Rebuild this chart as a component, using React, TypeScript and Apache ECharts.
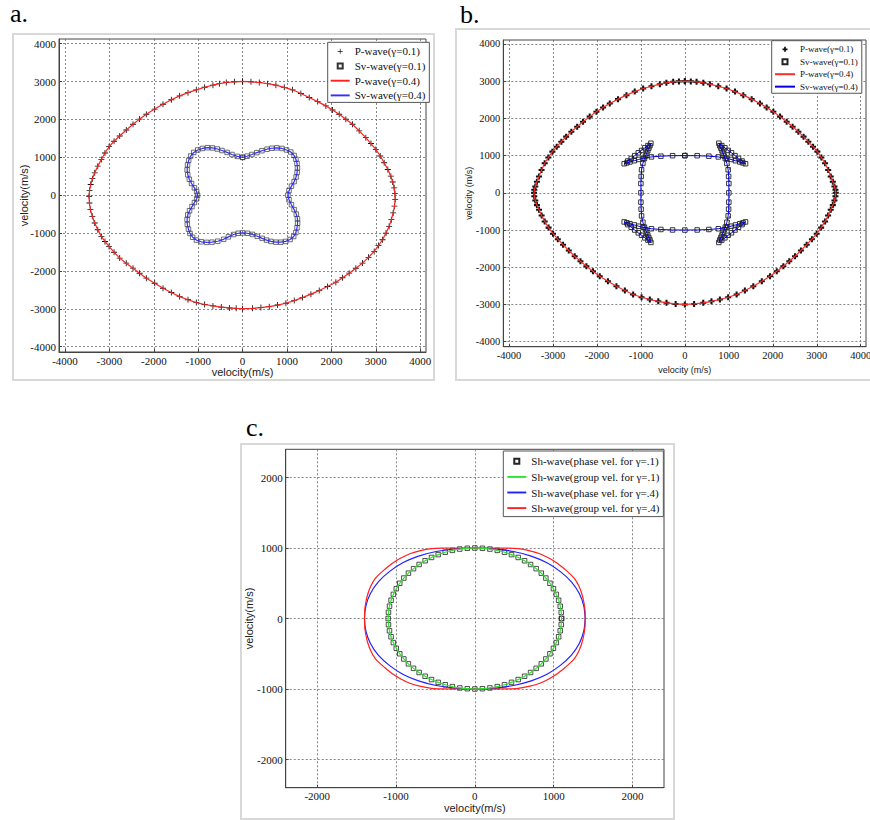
import React, { useEffect, useRef } from "react";
import * as echarts from "echarts";

// ---------- data ----------
const A_TICKS = [-4000, -3000, -2000, -1000, 0, 1000, 2000, 3000, 4000];
const C_TICKS = [-2000, -1000, 0, 1000, 2000];

const A_NAMES = ["P-wave(γ=0.1)", "Sv-wave(γ=0.1)", "P-wave(γ=0.4)", "Sv-wave(γ=0.4)"];
const B_NAMES = ["P-wave(γ=0.1)", "Sv-wave(γ=0.1)", "P-wave(γ=0.4)", "Sv-wave(γ=0.4)"];
const C_NAMES = [
  "Sh-wave(phase vel. for γ=.1)",
  "Sh-wave(group vel. for γ=.1)",
  "Sh-wave(phase vel. for γ=.4)",
  "Sh-wave(group vel. for γ=.4)",
];
const AXIS_NAME_A = "velocity(m/s)";
const AXIS_NAME_B = "velocity (m/s)";

// Panel a: P-wave wavefront (γ=0.1 markers and γ=0.4 line coincide)
const A_P_WAVE: number[][] = [
  [0, 3004], [-185, 2995], [-368, 2977], [-520, 2945], [-668, 2906], [-855, 2850], [-1043, 2783],
  [-1230, 2708], [-1418, 2624], [-1605, 2520], [-1793, 2403], [-1980, 2275], [-2168, 2138],
  [-2320, 2010], [-2468, 1873], [-2620, 1722], [-2768, 1564], [-2895, 1425], [-3008, 1281],
  [-3100, 1115], [-3181, 945], [-3262, 768], [-3331, 592], [-3383, 437], [-3421, 283],
  [-3447, 128], [-3458, -27],
  [-3450, -205], [-3428, -380], [-3385, -557], [-3331, -733], [-3262, -912], [-3181, -1087],
  [-3100, -1222], [-3008, -1352], [-2895, -1505], [-2768, -1661], [-2620, -1795], [-2468, -1926],
  [-2320, -2060], [-2168, -2191], [-1980, -2325], [-1793, -2456], [-1605, -2570], [-1418, -2677],
  [-1230, -2760], [-1043, -2836], [-855, -2885], [-668, -2924], [-480, -2955], [-293, -2977],
  [-145, -2988], [0, -2995],
  [225, -2986], [412, -2966], [600, -2942], [788, -2900], [975, -2853], [1163, -2782],
  [1350, -2703], [1538, -2612], [1725, -2518], [1912, -2410], [2100, -2297], [2250, -2180],
  [2400, -2058], [2550, -1928], [2700, -1793], [2835, -1640], [2963, -1484], [3060, -1330],
  [3150, -1175], [3230, -1000], [3300, -822], [3350, -645], [3391, -468], [3420, -290], [3436, -115],
  [3430, 40], [3413, 194], [3380, 350], [3338, 504], [3270, 680], [3188, 857], [3100, 1035],
  [3000, 1210], [2890, 1365], [2775, 1519], [2625, 1700], [2475, 1873], [2325, 2008],
  [2175, 2138], [2025, 2250], [1875, 2359], [1690, 2472], [1500, 2580], [1312, 2685],
  [1125, 2783], [938, 2848], [750, 2906], [562, 2945], [375, 2977], [188, 2995], [0, 3004],
];

// Panel a: Sv-wave wavefront (four lobes)
const A_SV_WAVE: number[][] = [
  [0, 1000], [100, 1030], [210, 1075], [320, 1125], [435, 1175], [550, 1215], [660, 1240],
  [770, 1250], [885, 1235], [990, 1195], [1085, 1140], [1160, 1050], [1200, 950], [1225, 840],
  [1235, 720], [1228, 600], [1205, 480], [1160, 360], [1100, 240], [1045, 120], [1020, 0],
  [1045, -120], [1100, -250], [1160, -380], [1210, -500], [1235, -620], [1238, -740],
  [1225, -860], [1200, -985], [1150, -1090], [1070, -1170], [970, -1220], [860, -1240],
  [750, -1240], [640, -1220], [540, -1185], [440, -1140], [330, -1085], [220, -1035],
  [110, -1005], [0, -995],
  [-100, -1005], [-203, -1038], [-320, -1100], [-428, -1165], [-560, -1215], [-690, -1240],
  [-810, -1245], [-930, -1230], [-1040, -1185], [-1125, -1110], [-1185, -1010], [-1220, -895],
  [-1245, -770], [-1250, -640], [-1235, -520], [-1195, -410], [-1140, -300], [-1085, -195],
  [-1035, -95], [-1015, 0],
  [-1035, 95], [-1085, 195], [-1150, 310], [-1200, 420], [-1235, 540], [-1250, 670],
  [-1240, 800], [-1215, 920], [-1170, 1035], [-1100, 1130], [-1010, 1195], [-905, 1235],
  [-790, 1255], [-680, 1248], [-570, 1220], [-465, 1180], [-350, 1130], [-240, 1075],
  [-120, 1025], [0, 1000],
];

// Panel b: P-wave wavefront
const B_P_WAVE: number[][] = [
  [0, 3000], [-135, 2995], [-266, 2982], [-420, 2955], [-570, 2920], [-760, 2865], [-949, 2804],
  [-1140, 2720], [-1329, 2625], [-1520, 2518], [-1708, 2402], [-1860, 2292], [-2012, 2179],
  [-2165, 2048], [-2316, 1911], [-2450, 1778], [-2582, 1643], [-2700, 1510], [-2809, 1375],
  [-2915, 1240], [-3014, 1107], [-3105, 950], [-3189, 795], [-3260, 615], [-3318, 438],
  [-3365, 300], [-3402, 170], [-3425, 80], [-3432, 0],
  [-3425, -90], [-3402, -205], [-3365, -330], [-3318, -455], [-3258, -612], [-3189, -768],
  [-3100, -935], [-2999, -1098], [-2890, -1245], [-2771, -1393], [-2640, -1550], [-2506, -1705],
  [-2375, -1840], [-2240, -1973], [-2090, -2108], [-1936, -2241], [-1750, -2378], [-1557, -2509],
  [-1365, -2625], [-1177, -2732], [-985, -2805], [-797, -2866], [-605, -2915], [-418, -2955],
  [-210, -2985], [0, -3000],
  [210, -2985], [418, -2955], [605, -2915], [797, -2866], [985, -2805], [1177, -2732],
  [1365, -2625], [1557, -2509], [1750, -2378], [1936, -2241], [2090, -2108], [2240, -1973],
  [2375, -1840], [2506, -1705], [2640, -1550], [2771, -1393], [2890, -1245], [2999, -1098],
  [3100, -935], [3189, -768], [3258, -612], [3318, -455], [3365, -330], [3402, -205],
  [3425, -90], [3432, 0],
  [3425, 80], [3402, 170], [3365, 300], [3318, 438], [3260, 615], [3189, 795], [3105, 950],
  [3014, 1107], [2915, 1240], [2809, 1375], [2700, 1510], [2582, 1643], [2450, 1778],
  [2316, 1911], [2165, 2048], [2012, 2179], [1860, 2292], [1708, 2402], [1520, 2518],
  [1329, 2625], [1140, 2720], [949, 2804], [760, 2865], [570, 2920], [420, 2955], [266, 2982],
  [135, 2995], [0, 3000],
];

// Panel b: Sv-wave wavefront with cusps
const B_SV_WAVE: number[][] = [
  [0, 1000], [280, 998], [546, 985], [760, 965], [950, 930], [1050, 897], [1150, 863],
  [1250, 830], [1320, 805], [1380, 782], [1300, 855], [1220, 925], [1140, 1000], [1060, 1075],
  [985, 1140], [910, 1210], [840, 1270], [773, 1333], [795, 1265], [820, 1200], [845, 1130],
  [870, 1060], [895, 990], [920, 920], [955, 790], [985, 620], [995, 440], [1000, 250], [1000, 0],
  [1000, -250], [995, -440], [985, -620], [955, -790], [920, -920], [895, -990], [870, -1060],
  [845, -1130], [820, -1200], [795, -1265], [773, -1333], [840, -1270], [910, -1210],
  [985, -1140], [1060, -1075], [1140, -1000], [1220, -925], [1300, -855], [1380, -782],
  [1320, -805], [1250, -830], [1150, -863], [1050, -897], [950, -930], [760, -965],
  [546, -985], [280, -998], [0, -1000],
  [-280, -998], [-546, -985], [-760, -965], [-950, -930], [-1050, -897], [-1150, -863],
  [-1250, -830], [-1320, -805], [-1380, -782], [-1300, -855], [-1220, -925], [-1140, -1000],
  [-1060, -1075], [-985, -1140], [-910, -1210], [-840, -1270], [-773, -1333], [-795, -1265],
  [-820, -1200], [-845, -1130], [-870, -1060], [-895, -990], [-920, -920], [-955, -790],
  [-985, -620], [-995, -440], [-1000, -250], [-1000, 0],
  [-1000, 250], [-995, 440], [-985, 620], [-955, 790], [-920, 920], [-895, 990], [-870, 1060],
  [-845, 1130], [-820, 1200], [-795, 1265], [-773, 1333], [-840, 1270], [-910, 1210],
  [-985, 1140], [-1060, 1075], [-1140, 1000], [-1220, 925], [-1300, 855], [-1380, 782],
  [-1320, 805], [-1250, 830], [-1150, 863], [-1050, 897], [-950, 930], [-760, 965],
  [-546, 985], [-280, 998], [0, 1000],
];

// Panel c: SH-wave for γ=.1 (phase and group coincide)
const C_SH_G1: number[][] = [
  [1100, 0], [1096, 87], [1083, 174], [1063, 259], [1034, 342], [997, 423], [953, 500],
  [901, 574], [843, 643], [778, 707], [707, 766], [631, 819], [550, 866], [465, 906],
  [376, 940], [285, 966], [191, 985], [96, 996], [0, 1000],
  [-96, 996], [-191, 985], [-285, 966], [-376, 940], [-465, 906], [-550, 866], [-631, 819],
  [-707, 766], [-778, 707], [-843, 643], [-901, 574], [-953, 500], [-997, 423], [-1034, 342],
  [-1063, 259], [-1083, 174], [-1096, 87], [-1100, 0],
  [-1096, -87], [-1083, -174], [-1063, -259], [-1034, -342], [-997, -423], [-953, -500],
  [-901, -574], [-843, -643], [-778, -707], [-707, -766], [-631, -819], [-550, -866],
  [-465, -906], [-376, -940], [-285, -966], [-191, -985], [-96, -996], [0, -1000],
  [96, -996], [191, -985], [285, -966], [376, -940], [465, -906], [550, -866], [631, -819],
  [707, -766], [778, -707], [843, -643], [901, -574], [953, -500], [997, -423], [1034, -342],
  [1063, -259], [1083, -174], [1096, -87], [1100, 0],
];

// Panel c: SH-wave phase velocity, γ=.4
const C_SH_PHASE_G4: number[][] = [
  [1400, 0], [1382, 180], [1325, 355], [1225, 520], [1085, 665], [915, 790], [715, 885],
  [490, 950], [250, 988], [0, 1000],
  [-250, 988], [-490, 950], [-715, 885], [-915, 790], [-1085, 665], [-1225, 520], [-1325, 355],
  [-1382, 180], [-1400, 0],
  [-1382, -180], [-1325, -355], [-1225, -520], [-1085, -665], [-915, -790], [-715, -885],
  [-490, -950], [-250, -988], [0, -1000],
  [250, -988], [490, -950], [715, -885], [915, -790], [1085, -665], [1225, -520], [1325, -355],
  [1382, -180], [1400, 0],
];

// Panel c: SH-wave group velocity, γ=.4
const C_SH_GROUP_G4: number[][] = [
  [1400, 0], [1398, 110], [1385, 220], [1360, 340], [1320, 460], [1265, 565], [1210, 630],
  [1150, 690], [1050, 780], [950, 850], [825, 919], [700, 960], [550, 990], [400, 998],
  [200, 1000], [0, 1000],
  [-200, 1000], [-400, 998], [-550, 990], [-700, 960], [-825, 919], [-950, 850], [-1050, 780],
  [-1150, 690], [-1210, 630], [-1265, 565], [-1320, 460], [-1360, 340], [-1385, 220],
  [-1398, 110], [-1400, 0],
  [-1398, -110], [-1385, -220], [-1360, -340], [-1320, -460], [-1265, -565], [-1210, -630],
  [-1150, -690], [-1050, -780], [-950, -850], [-825, -919], [-700, -960], [-550, -990],
  [-400, -998], [-200, -1000], [0, -1000],
  [200, -1000], [400, -998], [550, -990], [700, -960], [825, -919], [950, -850], [1050, -780],
  [1150, -690], [1210, -630], [1265, -565], [1320, -460], [1360, -340], [1385, -220],
  [1398, -110], [1400, 0],
];

// ---------- styling ----------
const SERIF = "Liberation Serif";
const SANS = "Liberation Sans";
const PLUS = "path://M0,4.3H10V5.7H0Z M4.3,0H5.7V10H4.3Z";
const BOLD_PLUS = "path://M3.3,0H6.7V3.3H10V6.7H6.7V10H3.3V6.7H0V3.3H3.3Z";
const SQUARE = "path://M0,0H10V10H0Z";
const LINE_ICON = "path://M0,0H40V4H0Z";

function makeAxis(o: {
  min: number; max: number; ticks: number[]; name: string; nameGap: number;
  nameSize: number; labelSize: number;
}) {
  return {
    type: "value",
    min: o.min,
    max: o.max,
    name: o.name,
    nameLocation: "middle",
    nameGap: o.nameGap,
    nameMoveOverlap: false,
    nameTextStyle: { fontFamily: SANS, fontSize: o.nameSize, color: "#222" },
    axisLine: { show: true, onZero: false, lineStyle: { color: "#444", width: 1 } },
    axisTick: {
      show: true, inside: true, length: 3, customValues: o.ticks,
      lineStyle: { color: "#444", width: 1 },
    },
    axisLabel: {
      customValues: o.ticks, fontFamily: SERIF, fontSize: o.labelSize, color: "#111",
      margin: 3, hideOverlap: false,
      formatter: (v: number) => `{t|${Math.round(v)}}`,
      rich: { t: { fontFamily: SERIF, fontSize: o.labelSize, color: "#111" } },
    },
    splitLine: { show: true, lineStyle: { color: "#6a6a6a", width: 0.8, type: [2, 2] } },
    splitArea: { show: false },
  };
}

function frame(x: number, y: number, w: number, h: number) {
  return {
    type: "rect", silent: true, z: 0,
    shape: { x, y, width: w, height: h },
    style: { fill: "none", stroke: "#d8d8d8", lineWidth: 2 },
  };
}

function panelLabel(text: string, x: number, y: number) {
  return {
    type: "text", x, y, silent: true,
    style: {
      text, font: `26px "${SERIF}"`, fill: "#000",
      verticalAlign: "middle", textVerticalAlign: "middle",
    },
  };
}

const lineItem = (name: string) => ({ name, icon: LINE_ICON, itemStyle: { borderWidth: 0 } });

const optionA = {
  animation: false,
  textStyle: { fontFamily: SERIF },
  graphic: [frame(13, 34, 421, 346), panelLabel("a.", 10, 13)],
  grid: {
    left: 59, right: 14, top: 39, bottom: 38, show: true, borderColor: "#444", borderWidth: 1,
    backgroundColor: "#fff", outerBoundsMode: "none",
  },
  xAxis: makeAxis({ min: -4135, max: 4130, ticks: A_TICKS, name: AXIS_NAME_A, nameGap: 14, nameSize: 11, labelSize: 11 }),
  yAxis: makeAxis({ min: -4140, max: 4125, ticks: A_TICKS, name: AXIS_NAME_A, nameGap: 30, nameSize: 11, labelSize: 11 }),
  legend: {
    orient: "vertical", left: 327.7, top: 42.3, padding: [3, 4, 1, 3],
    itemWidth: 19, itemHeight: 5, itemGap: 2.7, selectedMode: false,
    backgroundColor: "#fff", borderColor: "#555", borderWidth: 1,
    textStyle: { fontFamily: SERIF, fontSize: 11, color: "#111", lineHeight: 12 },
    data: [
      { name: A_NAMES[0], icon: PLUS },
      { name: A_NAMES[1], icon: SQUARE },
      lineItem(A_NAMES[2]),
      lineItem(A_NAMES[3]),
    ],
  },
  series: [
    {
      name: A_NAMES[0], type: "scatter", data: A_P_WAVE, symbol: PLUS, symbolSize: 6, silent: true,
      color: "#111", itemStyle: { color: "#111", opacity: 1 },
    },
    {
      name: A_NAMES[1], type: "scatter", data: A_SV_WAVE, symbol: "rect", symbolSize: 4.5, silent: true,
      color: "#222", itemStyle: { color: "rgba(0,0,0,0)", borderColor: "#333", borderWidth: 0.7, opacity: 1 },
    },
    {
      name: A_NAMES[2], type: "line", data: A_P_WAVE, symbol: "none", showSymbol: false, silent: true,
      color: "#ff2020", itemStyle: { color: "#ff2020" }, lineStyle: { color: "#ff2020", width: 1.2 },
    },
    {
      name: A_NAMES[3], type: "line", data: A_SV_WAVE, symbol: "none", showSymbol: false, silent: true,
      color: "#3030ff", itemStyle: { color: "#3030ff" }, lineStyle: { color: "#3030ff", width: 1.2 },
    },
  ],
};

const optionB = {
  animation: false,
  textStyle: { fontFamily: SERIF },
  graphic: [frame(16, 29, 420, 351), panelLabel("b.", 20, 14)],
  grid: {
    left: 63.3, right: 4, top: 40, bottom: 43.3, show: true, borderColor: "#444", borderWidth: 1,
    backgroundColor: "#fff", outerBoundsMode: "none",
  },
  xAxis: makeAxis({ min: -4130, max: 4120, ticks: A_TICKS, name: AXIS_NAME_B, nameGap: 19, nameSize: 9, labelSize: 10.5 }),
  yAxis: makeAxis({ min: -4135, max: 4107, ticks: A_TICKS, name: AXIS_NAME_B, nameGap: 29.5, nameSize: 9, labelSize: 10.5 }),
  legend: {
    orient: "vertical", left: 331.7, top: 40.7, padding: [3.6, 4, 1.6, 3.3],
    itemWidth: 20, itemHeight: 5, itemGap: 2.45, selectedMode: false,
    backgroundColor: "#fff", borderColor: "#555", borderWidth: 1,
    textStyle: { fontFamily: SERIF, fontSize: 9, color: "#111", lineHeight: 10 },
    data: [
      { name: B_NAMES[0], icon: BOLD_PLUS },
      { name: B_NAMES[1], icon: SQUARE },
      lineItem(B_NAMES[2]),
      lineItem(B_NAMES[3]),
    ],
  },
  series: [
    {
      name: B_NAMES[0], type: "scatter", data: B_P_WAVE, symbol: BOLD_PLUS, symbolSize: 6, silent: true,
      color: "#111", itemStyle: { color: "#111", opacity: 1 },
    },
    {
      name: B_NAMES[1], type: "scatter", data: B_SV_WAVE, symbol: "rect", symbolSize: 4.5, silent: true,
      color: "#222", itemStyle: { color: "rgba(0,0,0,0)", borderColor: "#222", borderWidth: 0.9, opacity: 1 },
    },
    {
      name: B_NAMES[2], type: "line", data: B_P_WAVE, symbol: "none", showSymbol: false, silent: true,
      color: "#ff2a2a", itemStyle: { color: "#ff2a2a" }, lineStyle: { color: "#ff2a2a", width: 1.2 },
    },
    {
      name: B_NAMES[3], type: "line", data: B_SV_WAVE, symbol: "none", showSymbol: false, silent: true,
      color: "#0000e0", itemStyle: { color: "#0000e0" }, lineStyle: { color: "#0000e0", width: 1 },
    },
  ],
};

const optionC = {
  animation: false,
  textStyle: { fontFamily: SERIF },
  graphic: [frame(1, 34, 433, 375), panelLabel("c.", 6, 17)],
  grid: {
    left: 45.7, right: 16, top: 39.3, bottom: 32.3, show: true, borderColor: "#444", borderWidth: 1,
    backgroundColor: "#fff", outerBoundsMode: "none",
  },
  xAxis: makeAxis({ min: -2400, max: 2400, ticks: C_TICKS, name: AXIS_NAME_A, nameGap: 15, nameSize: 11, labelSize: 11 }),
  yAxis: makeAxis({ min: -2400, max: 2400, ticks: C_TICKS, name: AXIS_NAME_A, nameGap: 31.5, nameSize: 11, labelSize: 11 }),
  legend: {
    orient: "vertical", left: 263.3, top: 41, padding: [3.8, 4, 2, 4],
    itemWidth: 19, itemHeight: 5, itemGap: 2.6, selectedMode: false,
    backgroundColor: "#fff", borderColor: "#555", borderWidth: 1,
    textStyle: { fontFamily: SERIF, fontSize: 11, color: "#111", lineHeight: 13 },
    data: [
      { name: C_NAMES[0], icon: SQUARE },
      lineItem(C_NAMES[1]),
      lineItem(C_NAMES[2]),
      lineItem(C_NAMES[3]),
    ],
  },
  series: [
    {
      name: C_NAMES[2], type: "line", data: C_SH_PHASE_G4, symbol: "none", showSymbol: false, silent: true,
      smooth: 0.3, color: "#2020ff", itemStyle: { color: "#2020ff" }, lineStyle: { color: "#2020ff", width: 1.2 },
    },
    {
      name: C_NAMES[3], type: "line", data: C_SH_GROUP_G4, symbol: "none", showSymbol: false, silent: true,
      smooth: 0.3, color: "#ff2020", itemStyle: { color: "#ff2020" }, lineStyle: { color: "#ff2020", width: 1.2 },
    },
    {
      name: C_NAMES[0], type: "scatter", data: C_SH_G1, symbol: "rect", symbolSize: 4.5, silent: true,
      color: "#222", itemStyle: { color: "rgba(0,0,0,0)", borderColor: "#222", borderWidth: 0.8, opacity: 1 },
    },
    {
      name: C_NAMES[1], type: "line", data: C_SH_G1, symbol: "none", showSymbol: false, silent: true,
      smooth: 0.3, color: "#30e030", itemStyle: { color: "#30e030" }, lineStyle: { color: "#30e030", width: 1.2 },
    },
  ],
};

function Chart({ option, style }: { option: any; style: React.CSSProperties }) {
  const ref = useRef<HTMLDivElement>(null);
  useEffect(() => {
    if (!ref.current) return;
    const chart = echarts.init(ref.current, undefined, { renderer: "svg" });
    chart.setOption(option);
    return () => chart.dispose();
  }, [option]);
  return <div ref={ref} style={style} />;
}

export default function App() {
  return (
    <div style={{ position: "absolute", left: 0, top: 0, width: 870, height: 820, background: "#fff", overflow: "hidden" }}>
      <Chart option={optionA} style={{ position: "absolute", left: 0, top: 0, width: 440, height: 390 }} />
      <Chart option={optionB} style={{ position: "absolute", left: 440, top: 0, width: 430, height: 390 }} />
      <Chart option={optionC} style={{ position: "absolute", left: 240, top: 410, width: 440, height: 410 }} />
    </div>
  );
}
